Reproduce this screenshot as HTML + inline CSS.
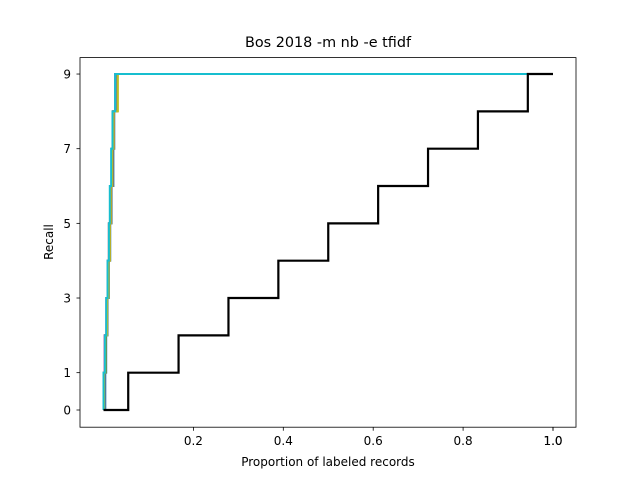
<!DOCTYPE html>
<html><head><meta charset="utf-8"><style>
body{margin:0;background:#fff}
svg text{font-family:"DejaVu Sans","Liberation Sans",sans-serif;fill:#000}
</style></head><body>
<svg width="640" height="480" id="c">
<rect x="0" y="0" width="640" height="480" fill="#fff"/>
<text x="328" y="47" font-size="14.4" text-anchor="middle">Bos 2018 -m nb -e tfidf</text>
<text x="328" y="466" font-size="12" text-anchor="middle">Proportion of labeled records</text>
<text x="53" y="242" font-size="12" text-anchor="middle" transform="rotate(-90 53 242)">Recall</text>
<g id="marks"></g>
<g id="ticks"></g>
<rect x="80" y="57.6" width="496" height="369.6" fill="none" stroke="#000" stroke-width="0.8"/>
</svg>
<script>
const xTicks=[0.2,0.4,0.6,0.8,1.0,1.0];
const yTicks=[0,1,3,5,7,9];
const randomSteps=[0.055,0.167,0.278,0.389,0.5,0.611,0.722,0.833,0.944];
const seriesColors=["#1f77b4","#ff7f0e","#2ca02c","#d62728","#9467bd","#8c564b","#e377c2","#7f7f7f","#bcbd22","#17becf"];
const seriesSteps=[
[0.004,0.006,0.009,0.012,0.015,0.018,0.022,0.024,0.026],
[0.002,0.004,0.008,0.011,0.014,0.017,0.020,0.023,0.030],
[0.002,0.005,0.007,0.010,0.013,0.016,0.019,0.022,0.028],
[0.001,0.003,0.007,0.009,0.012,0.015,0.018,0.021,0.028],
[0.002,0.004,0.008,0.010,0.013,0.016,0.019,0.022,0.026],
[0.001,0.003,0.007,0.010,0.013,0.016,0.018,0.021,0.027],
[0.000,0.002,0.006,0.009,0.012,0.015,0.018,0.020,0.030],
[0.002,0.004,0.007,0.010,0.012,0.015,0.018,0.021,0.029],
[0.001,0.004,0.008,0.011,0.014,0.016,0.019,0.022,0.032],
[0.000,0.003,0.006,0.009,0.012,0.014,0.017,0.020,0.026]
];
const X=v=>103.5+v*449.5, Y=v=>410-v*37.33;
const NS="http://www.w3.org/2000/svg";
const marks=document.getElementById('marks'), ticks=document.getElementById('ticks');
function stepPath(steps){
  let d="M"+X(0)+","+Y(0);
  steps.forEach((s,i)=>{d+=" H"+X(s)+" V"+Y(i+1);});
  d+=" H"+X(1);
  return d;
}
seriesColors.forEach((c,k)=>{
  const p=document.createElementNS(NS,'path');
  p.setAttribute('d',stepPath(seriesSteps[k]));
  p.setAttribute('fill','none');p.setAttribute('stroke',c);p.setAttribute('stroke-width','2');
  
  
  marks.appendChild(p);
});
const rp=document.createElementNS(NS,'path');
rp.setAttribute('d',stepPath(randomSteps));
rp.setAttribute('fill','none');rp.setAttribute('stroke','#000');rp.setAttribute('stroke-width','2.2');


marks.appendChild(rp);
xTicks.forEach(v=>{
  const l=document.createElementNS(NS,'line');
  l.setAttribute('x1',X(v));l.setAttribute('x2',X(v));l.setAttribute('y1',427.2);l.setAttribute('y2',430.7);l.setAttribute('stroke','#000');l.setAttribute('stroke-width','0.8');
  
  
  ticks.appendChild(l);
  const t=document.createElementNS(NS,'text');
  t.setAttribute('x',X(v));t.setAttribute('y',445);t.setAttribute('font-size','12');t.setAttribute('text-anchor','middle');
  t.textContent=v.toFixed(1);
  
  
  ticks.appendChild(t);
});
yTicks.forEach(v=>{
  const l=document.createElementNS(NS,'line');
  l.setAttribute('x1',76.5);l.setAttribute('x2',80);l.setAttribute('y1',Y(v));l.setAttribute('y2',Y(v));l.setAttribute('stroke','#000');l.setAttribute('stroke-width','0.8');
  
  
  ticks.appendChild(l);
  const t=document.createElementNS(NS,'text');
  t.setAttribute('x',71);t.setAttribute('y',Y(v)+4.5);t.setAttribute('font-size','12');t.setAttribute('text-anchor','end');
  t.textContent=v;
  
  
  ticks.appendChild(t);
});
</script>
</body></html>
